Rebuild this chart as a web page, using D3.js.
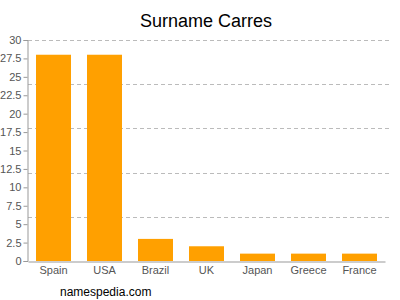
<!DOCTYPE html>
<html>
<head>
<meta charset="utf-8">
<script src="https://cdn.jsdelivr.net/npm/d3@7"></script>
<style>
  body { margin: 0; background: #fff; }
  svg { display: block; font-family: "Liberation Sans", Arial, sans-serif; }
</style>
</head>
<body>
<svg id="chart" width="400" height="300"></svg>
<script>
// chart data
const countries = ["Spain", "USA", "Brazil", "UK", "Japan", "Greece", "France"];
const counts = [28, 28, 3, 2, 1, 1, 1];
const yTicks = [0, 2.5, 5, 7.5, 10, 12.5, 15, 17.5, 20, 22.5, 25, 27.5, 30];
const gridValues = [6, 12, 18, 24, 30];

const svg = d3.select("#chart");
const plotLeft = 28, plotRight = 385, plotTop = 40, plotBottom = 261;

let x = d3.scaleBand().domain(countries).range([plotLeft, plotRight])
          .paddingInner(0.314).paddingOuter(0.157);
let y = d3.scaleLinear().domain([0, 30]).range([plotBottom, plotTop]);

// dashed grid
svg.append("g").selectAll("line").data(gridValues).enter().append("line")
   .attr("x1", plotLeft).attr("x2", 390)
   .attr("y1", d => Math.round(y(d)) + 0.5).attr("y2", d => Math.round(y(d)) + 0.5)
   .attr("stroke", "#bbb").attr("stroke-dasharray", "4,3");

// bars
svg.append("g").selectAll("rect").data(countries).enter().append("rect")
   .attr("x", d => x(d))
   .attr("width", x.bandwidth())
   .attr("y", (d, i) => y(counts[i]))
   .attr("height", (d, i) => y(0) - y(counts[i]))
   .attr("fill", "#ffa000");

// y axis
let yAxis = svg.append("g").attr("transform", `translate(${plotLeft - 0.5},0)`)
   .call(d3.axisLeft(y).tickValues(yTicks).tickSize(4).tickPadding(2).tickFormat(d3.format("")));
yAxis.select(".domain").attr("stroke", "#999");
yAxis.selectAll(".tick line").attr("stroke", "#999");
yAxis.selectAll("text").attr("fill", "#555").style("font-size", "11px");

// x axis
let xAxis = svg.append("g").attr("transform", `translate(0,${plotBottom + 0.5})`)
   .call(d3.axisBottom(x).tickSize(0).tickPadding(5));
xAxis.select(".domain").attr("stroke", "#999");
xAxis.selectAll("text").attr("fill", "#555").style("font-size", "11px");

// title
svg.append("text").attr("x", 206).attr("y", 27).attr("text-anchor", "middle")
   .style("font-size", "18px").attr("fill", "#000").text("Surname Carres");

svg.append("text").attr("x", 60).attr("y", 296)
   .style("font-size", "12px").attr("fill", "#000").text("namespedia.com");
</script>
</body>
</html>
